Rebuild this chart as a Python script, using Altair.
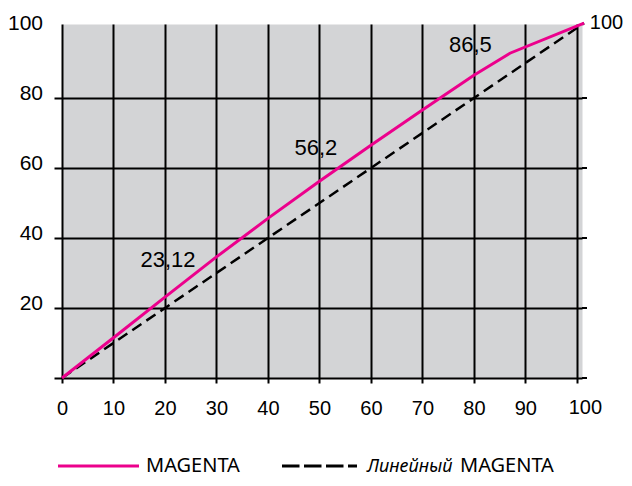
import altair as alt
import pandas as pd

# ---- data ----
curve_x = [0, 10, 20, 30, 40, 50, 60, 70, 80, 87, 101.4]
magenta_y = [0, 11.5, 23.12, 34.6, 45.6, 56.2, 66.5, 76.6, 86.5, 92.8, 101.4]
linear_x = [0, 101.4]
linear_y = [0, 101.4]
label_x = [20, 50, 80]
label_y = [23.12, 56.2, 86.5]
label_text = ["23,12", "56,2", "86,5"]
x_ticks = [0, 10, 20, 30, 40, 50, 60, 70, 80, 90, 100]
y_ticks = [0, 20, 40, 60, 80]
y_labels = [20, 40, 60, 80, 100]
legend_names = ["MAGENTA", "Линейный", "MAGENTA"]

MAG = "#ec008c"
FONT = "Liberation Sans"

magenta_df = pd.DataFrame({"x": curve_x, "y": magenta_y})
linear_df = pd.DataFrame({"x": linear_x, "y": linear_y})
one = pd.DataFrame({"a": [0]})

x_scale = alt.Scale(domain=[0, 101], nice=False, zero=False)
y_scale = alt.Scale(domain=[0, 101.15], nice=False, zero=False)

x_axis = alt.Axis(values=x_ticks, grid=True, gridColor="black", gridWidth=2,
                  domain=False, ticks=True, tickSize=5, tickWidth=2, tickColor="black",
                  labelExpr="datum.value == 100 ? '' : datum.label",
                  labelFont=FONT, labelFontSize=20, labelColor="black",
                  labelBaseline="alphabetic", labelPadding=31, labelFlush=False,
                  title=None)
y_axis = alt.Axis(orient="left", values=y_ticks, grid=True, gridColor="black", gridWidth=2,
                  domain=False, ticks=True, tickSize=8, tickWidth=2, tickColor="black",
                  labels=False, title=None)


def X(field="x"):
    return alt.X(f"{field}:Q", scale=x_scale, axis=x_axis)


def Y(field="y"):
    return alt.Y(f"{field}:Q", scale=y_scale, axis=y_axis)


linear = alt.Chart(linear_df).mark_line(color="black", strokeWidth=2.5,
                                        strokeDash=[11, 6], clip=False).encode(x=X(), y=Y())
magenta = alt.Chart(magenta_df).mark_line(color=MAG, strokeWidth=3, clip=False).encode(
    x=X(), y=Y())

# right-hand tick marks (short outward ticks at the y tick values)
right_ticks = alt.Chart(pd.DataFrame({"y": y_ticks})).mark_rule(
    color="black", strokeWidth=2).encode(
    y=Y(), x=alt.value(520), x2=alt.value(525))

# left tick labels (sit just above their grid lines)
ylab_df = pd.DataFrame({"x": [0] * len(y_labels), "y": y_labels,
                        "t": [str(v) for v in y_labels]})
ylabels = alt.Chart(ylab_df).mark_text(font=FONT, fontSize=21, color="black",
                                       align="right", baseline="alphabetic",
                                       dx=-19, dy=1.5).encode(x=X(), y=Y(), text="t:N")

layers = [right_ticks, linear, magenta, ylabels]

offsets = [(3, -30.5), (-3.5, -26), (-3.5, -23.5)]
for i in range(len(label_x)):
    d = pd.DataFrame({"x": [label_x[i]], "y": [label_y[i]], "t": [label_text[i]]})
    dx, dy = offsets[i]
    layers.append(alt.Chart(d).mark_text(font=FONT, fontSize=22, color="black",
                                         align="center", baseline="alphabetic",
                                         dx=dx, dy=dy).encode(
        x=X(), y=Y(), text="t:N"))

# axis end labels "100" (right side and bottom right)
end_labels = [
    (100, 100, "left", 13, 1, 20),
    (100, 0, "center", 8.5, 36, 20),
]
for ex, ey, al, dx, dy, fs in end_labels:
    d = pd.DataFrame({"x": [ex], "y": [ey]})
    layers.append(alt.Chart(d).mark_text(text="100", font=FONT, fontSize=fs,
                                         color="black", align=al, baseline="alphabetic",
                                         dx=dx, dy=dy).encode(x=X(), y=Y()))

# legend (drawn below the plot)
LEG_Y = 442
TXT_Y = 448
layers.append(alt.Chart(one).mark_rule(color=MAG, strokeWidth=3).encode(
    x=alt.value(-4), x2=alt.value(77), y=alt.value(LEG_Y)))
layers.append(alt.Chart(one).mark_rule(color="black", strokeWidth=3,
                                       strokeDash=[17.5, 4.5]).encode(
    x=alt.value(220), x2=alt.value(295), y=alt.value(LEG_Y)))
layers.append(alt.Chart(one).mark_text(text=legend_names[0], font="Noto Sans", fontSize=20,
                                       color="black", align="left",
                                       baseline="alphabetic").encode(
    x=alt.value(84), y=alt.value(TXT_Y)))
layers.append(alt.Chart(one).mark_text(text=legend_names[1], font="Noto Sans", fontSize=18,
                                       fontStyle="italic", color="black", align="left",
                                       baseline="alphabetic").encode(
    x=alt.value(305), y=alt.value(TXT_Y)))
layers.append(alt.Chart(one).mark_text(text=legend_names[2], font="Noto Sans", fontSize=20,
                                       color="black", align="left",
                                       baseline="alphabetic").encode(
    x=alt.value(398), y=alt.value(TXT_Y)))

chart = alt.layer(*layers).properties(
    width=520, height=354,
    padding={"left": 54, "top": 16, "right": 42, "bottom": 100},
    autosize=alt.AutoSizeParams(type="none"),
    background="white",
).configure_view(fill="#d3d4d6", stroke="transparent")

chart.save("out.html", embed_options={"renderer": "svg", "actions": False})
